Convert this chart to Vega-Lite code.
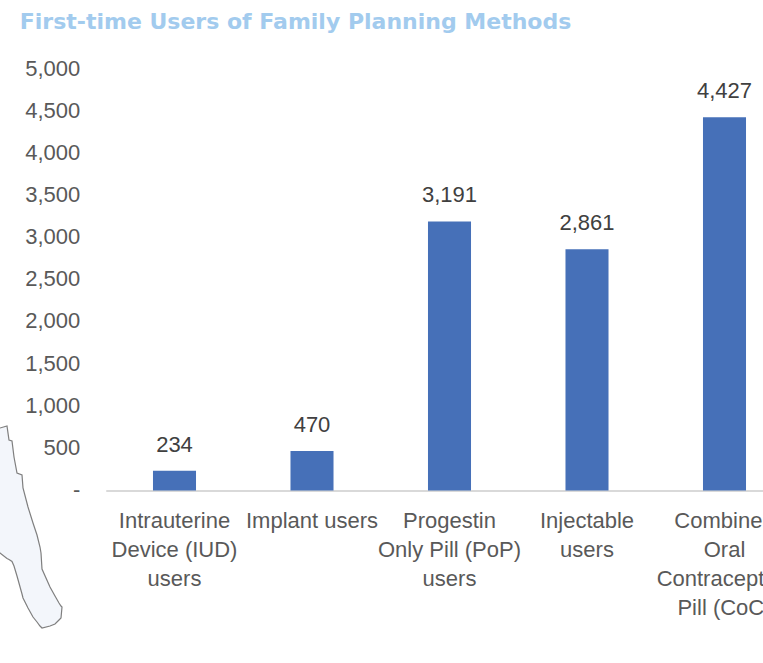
{"$schema":"https://vega.github.io/schema/vega-lite/v6.json","width":687.5,"height":421.5,"autosize":"none","padding":{"left":105.75,"top":69,"right":0,"bottom":172.5},"background":"white","title":{"text":"First-time Users of Family Planning Methods","anchor":"start","frame":"group","dx":-86,"offset":23,"font":"DejaVu Sans","fontWeight":"bold","fontSize":22,"color":"#a2cbee"},"config":{"view":{"stroke":null}},"resolve":{"scale":{"x":"independent","y":"independent"},"axis":{"x":"independent","y":"independent"}},"layer":[{"data":{"name":"d","values":[{"method":"Intrauterine|Device (IUD)|users","users":234},{"method":"Implant users","users":470},{"method":"Progestin|Only Pill (PoP)|users","users":3191},{"method":"Injectable|users","users":2861},{"method":"Combined|Oral|Contraceptive|Pill (CoC)","users":4427}]},"layer":[{"mark":{"type":"bar","color":"#4670b8"},"encoding":{"x":{"field":"method","type":"nominal","sort":null,"title":null,"scale":{"paddingInner":0.687,"paddingOuter":0.3435},"axis":{"domainColor":"#d9d9d9","domainWidth":2,"ticks":false,"labelAngle":0,"labelFont":"Liberation Sans","labelFontSize":22,"labelColor":"#595959","labelPadding":20,"labelLineHeight":29,"labelLimit":0,"labelExpr":"split(datum.label,'|')"}},"y":{"field":"users","type":"quantitative","title":null,"scale":{"domain":[0,5000]},"axis":{"domain":false,"ticks":false,"grid":false,"values":[0,500,1000,1500,2000,2500,3000,3500,4000,4500,5000],"labelFont":"Liberation Sans","labelFontSize":22,"labelColor":"#595959","labelPadding":26,"labelOffset":-1,"labelExpr":"datum.value==0?'-\u00a0\u00a0':format(datum.value,',')"}}}},{"mark":{"type":"text","font":"Liberation Sans","fontSize":22,"color":"#404040","baseline":"bottom","dy":-14},"encoding":{"x":{"field":"method","type":"nominal","sort":null},"y":{"field":"users","type":"quantitative"},"text":{"field":"users","type":"quantitative","format":","}}}]},{"data":{"values":[{"mx":-5,"top":428,"bottom":550},{"mx":0,"top":428,"bottom":553},{"mx":7,"top":426,"bottom":558.5},{"mx":9,"top":440,"bottom":559.5},{"mx":12,"top":441,"bottom":561.5},{"mx":14,"top":457,"bottom":566},{"mx":17,"top":473,"bottom":576},{"mx":22,"top":475,"bottom":594},{"mx":23,"top":488,"bottom":598},{"mx":28,"top":507,"bottom":608},{"mx":33,"top":523,"bottom":617},{"mx":37,"top":535,"bottom":622},{"mx":40,"top":547,"bottom":626},{"mx":41,"top":553,"bottom":627},{"mx":42,"top":569,"bottom":628},{"mx":50,"top":587,"bottom":626},{"mx":55,"top":596,"bottom":624},{"mx":59,"top":603,"bottom":620},{"mx":61,"top":606,"bottom":618},{"mx":62,"top":607,"bottom":607}]},"mark":{"type":"area","fill":"#f3f6fb","stroke":"#7f7f7f","strokeWidth":1.2,"opacity":1,"clip":false},"encoding":{"x":{"field":"mx","type":"quantitative","axis":null,"scale":{"domain":[105.75,793.25],"nice":false,"zero":false}},"y":{"field":"top","type":"quantitative","axis":null,"scale":{"domain":[490.5,69],"nice":false,"zero":false}},"y2":{"field":"bottom"}}}]}
